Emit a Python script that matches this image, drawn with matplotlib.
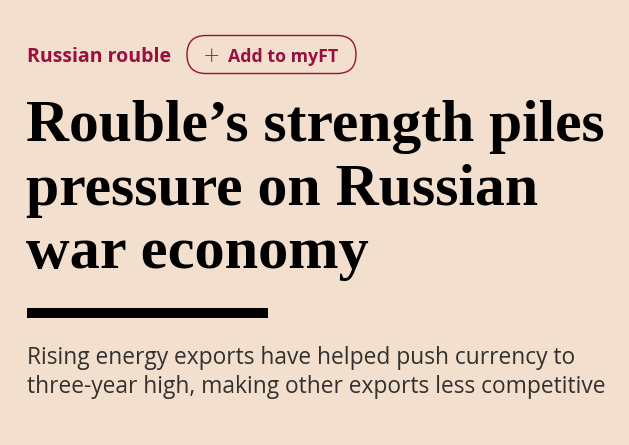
import matplotlib
matplotlib.use("Agg")
import matplotlib.pyplot as plt
from matplotlib.patches import FancyBboxPatch, Rectangle

# text content
topic = "Russian rouble"
button_label = "Add to myFT"
headline = ["Rouble\u2019s strength piles", "pressure on Russian", "war economy"]
standfirst = ["Rising energy exports have helped push currency to",
              "three-year high, making other exports less competitive"]

# target right edges (px) and baselines for each text line
headline_right = [604, 538, 368]
headline_base = [141, 205, 268]
stand_right = [577, 604]
stand_base = [364, 393]

BG = "#F2DFCE"
CLARET = "#990F3D"
INK = "#33302E"

fig = plt.figure(figsize=(6.29, 4.45), dpi=100, facecolor=BG)
ax = fig.add_axes([0, 0, 1, 1])
ax.set_xlim(0, 629)
ax.set_ylim(445, 0)
ax.axis("off")
ax.set_facecolor(BG)

renderer = fig.canvas.get_renderer()


def fit_text(x, y, s, right, size, **kw):
    # draw text, then rescale font size so it ends at the target right edge
    t = ax.text(x, y, s, fontsize=size, va="baseline", ha="left", **kw)
    w = t.get_window_extent(renderer).width
    t.set_fontsize(size * (right - x) / w)
    return t


fit_text(27, 62, topic, 170, 13, color=CLARET, fontweight="bold",
         family="Open Sans")

pill = FancyBboxPatch((187 + 19, 35.5), 169 - 38, 38, boxstyle="round,pad=0,rounding_size=19",
                      fc="none", ec=CLARET, lw=1.0, mutation_aspect=1)
pill.set_boxstyle("round", pad=19, rounding_size=19)
pill.set_bounds(187 + 19, 35.5 + 19, 169 - 38, 0.01)
ax.add_patch(pill)
ax.text(211.5, 56, "+", fontsize=15, color=CLARET, ha="center", va="center",
        family="DejaVu Sans", fontweight="light")
fit_text(228, 62, button_label, 338, 12, color=CLARET, fontweight="bold",
         family="Open Sans")

for s, r, b in zip(headline, headline_right, headline_base):
    fit_text(26, b, s, r, 40, color="black", fontweight="bold",
             family="Liberation Serif")

ax.add_patch(Rectangle((27, 308), 241, 10, fc="black", ec="none"))

for s, r, b in zip(standfirst, stand_right, stand_base):
    fit_text(27, b, s, r, 15, color=INK, family="Open Sans")

fig.savefig("out.png", dpi=100, facecolor=BG)
